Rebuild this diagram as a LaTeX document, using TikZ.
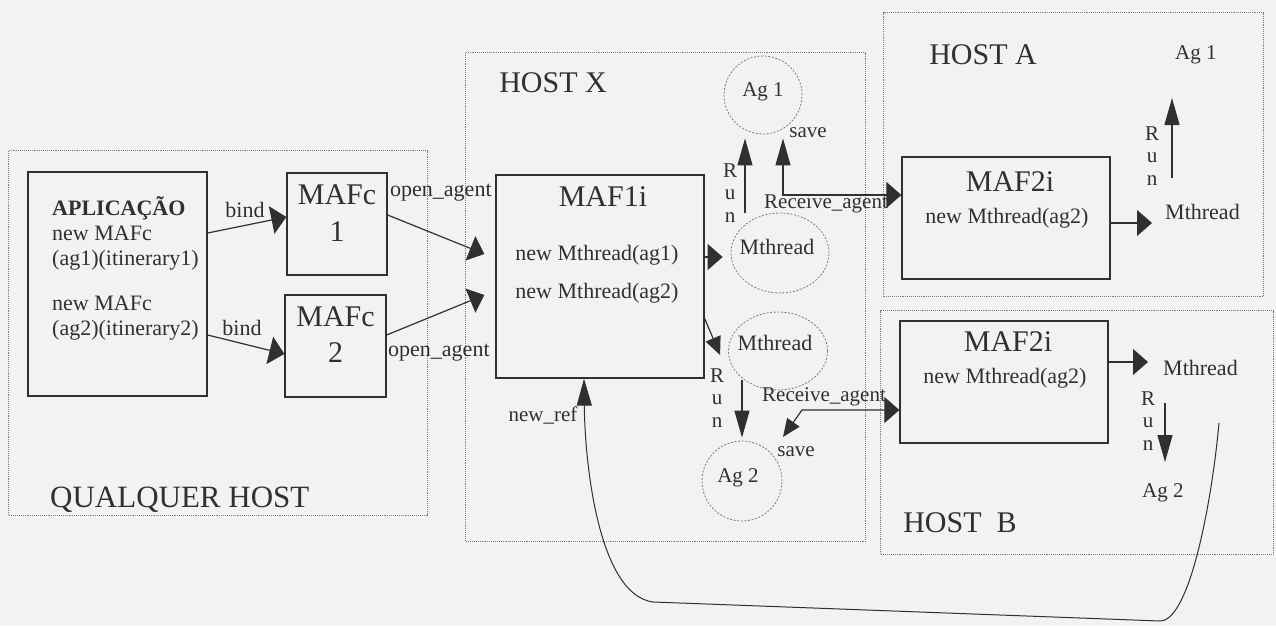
\documentclass[tikz,border=0pt]{standalone}
\usepackage{fontspec}
\setmainfont{Liberation Serif}
\usetikzlibrary{arrows.meta,shapes.geometric,calc}
\definecolor{paper}{RGB}{242,242,242}
\definecolor{ink}{RGB}{48,48,48}
\definecolor{faint}{RGB}{125,125,125}
\begin{document}
\begin{tikzpicture}[x=1pt,y=-1pt,
  hostbox/.style={draw=faint, densely dotted, line width=1.1pt, rectangle, inner sep=0, anchor=north west},
  solidbox/.style={draw=ink, line width=1.3pt, rectangle, inner sep=0},
  dashcirc/.style={draw=faint, dash pattern=on 2pt off 1.6pt, line width=0.8pt, inner sep=0},
  bigtxt/.style={font=\fontsize{30}{36}\selectfont, text=ink, inner sep=0},
  midtxt/.style={font=\fontsize{22}{27}\selectfont, text=ink, inner sep=0},
  smalltxt/.style={font=\fontsize{21}{22.5}\selectfont, text=ink, inner sep=0},
  conn/.style={draw=ink, line width=1.2pt},
  harr/.style={conn, -{Triangle[length=15pt,width=26pt]}},
  varr/.style={conn, -{Triangle[length=27pt,width=15pt]}},
  darr/.style={conn, -{Triangle[length=18pt,width=16pt]}}
]
\useasboundingbox[fill=paper] (0,0) rectangle (1276,626);

% host frames
\node[hostbox, minimum width=419pt, minimum height=365pt] (qh) at (8,150) {};
\node[hostbox, minimum width=400pt, minimum height=489pt] (hx) at (465,52) {};
\node[hostbox, minimum width=380pt, minimum height=284pt] (ha) at (883,12) {};
\node[hostbox, minimum width=393pt, minimum height=244pt] (hb) at (880,310) {};

\node[bigtxt, anchor=north west, font=\fontsize{31}{36}\selectfont] (tqh) at (50,487) {QUALQUER HOST};
\node[bigtxt] (thx) at (553,83) {HOST X};
\node[bigtxt] (tha) at (983,55) {HOST A};
\node[bigtxt] (thb) at (960,523) {HOST~~B};

% application
\node[solidbox, minimum width=179pt, minimum height=224pt] (app) at (117.5,284) {};
\node[midtxt, anchor=west] (t1) at (52,208) {\textbf{APLICAÇÃO}};
\node[midtxt, anchor=west] (t2) at (52,233) {new MAFc};
\node[midtxt, anchor=west] (t3) at (52,260) {(ag1)(itinerary1)};
\node[midtxt, anchor=west] (t4) at (52,303) {new MAFc};
\node[midtxt, anchor=west] (t5) at (52,330) {(ag2)(itinerary2)};

% MAFc boxes
\node[solidbox, minimum width=100pt, minimum height=102pt] (mafc1) at (337,224) {};
\node[bigtxt] (m1a) at (337,195) {MAFc};
\node[bigtxt] (m1b) at (337,232) {1};
\node[solidbox, minimum width=101pt, minimum height=102pt] (mafc2) at (335.5,346) {};
\node[bigtxt] (m2a) at (335.5,317) {MAFc};
\node[bigtxt] (m2b) at (335.5,353) {2};

\draw[harr, -{Triangle[length=15pt,width=28pt]}] ([yshift=51pt]app.east) -- ([yshift=7pt]mafc1.west);
\draw[harr, -{Triangle[length=15pt,width=28pt]}] ([yshift=-51pt]app.east) -- ([yshift=-8pt]mafc2.west);
\node[midtxt] (lb1) at (245,210) {bind};
\node[midtxt] (lb2) at (242,328) {bind};

% MAF1i
\node[solidbox, minimum width=208pt, minimum height=203pt] (maf1) at (600,276.5) {};
\node[bigtxt] (tm1) at (603,197) {MAF1i};
\node[midtxt] (tm2) at (597,255) {new Mthread(ag1)};
\node[midtxt] (tm3) at (597,293) {new Mthread(ag2)};

\draw[harr] ([yshift=9pt]mafc1.east) -- ([xshift=-11pt,yshift=22.5pt]maf1.west);
\draw[harr] ([yshift=11pt]mafc2.east) -- ([xshift=-11pt,yshift=-18.5pt]maf1.west);
\node[midtxt, anchor=west] (lo1) at (390,193) {open\_agent};
\node[midtxt, anchor=west] (lo2) at (388,353) {open\_agent};

% Host X threads and agents
\node[dashcirc, ellipse, minimum width=98pt, minimum height=80pt] (mth1) at (780,253) {};
\node[midtxt] (tmth1) at (777,247) {Mthread};
\node[dashcirc, circle, minimum size=78pt] (ag1) at (763,95) {};
\node[smalltxt] (tag1) at (763,92) {Ag 1};
\node[dashcirc, ellipse, minimum width=99pt, minimum height=78pt] (mth2) at (778,351) {};
\node[midtxt] (tmth2) at (775,343) {Mthread};
\node[dashcirc, circle, minimum size=80pt] (ag2) at (742,481) {};
\node[smalltxt] (tag2) at (738,478) {Ag 2};

\draw[harr] ([yshift=19.5pt]maf1.east) -- ([xshift=-8pt,yshift=-4pt]mth1.west);
\draw[darr] ([yshift=-42pt]maf1.east) -- ([xshift=-8pt,yshift=-4pt]mth2.west);

\draw[varr] ([xshift=-35pt]mth1.north) -- ([xshift=-18pt,yshift=-4pt]ag1.south);
\node[smalltxt, align=center] (run1) at (730,193) {R\\u\\n};
\draw[varr] ([xshift=-36pt,yshift=10pt]mth2.south) -- ([yshift=3pt]ag2.north);
\node[smalltxt, align=center] (run2) at (717,398) {R\\u\\n};

% MAF2i host A
\node[solidbox, minimum width=208pt, minimum height=122pt] (maf2a) at (1006,218) {};
\node[bigtxt] (ta1) at (1010,182) {MAF2i};
\node[midtxt] (ta2) at (1007,218) {new Mthread(ag2)};
\node[midtxt, anchor=west] (mtA) at (1165,212) {Mthread};
\node[smalltxt, anchor=west] (agA) at (1175,55) {Ag 1};
\draw[harr] ([yshift=-5pt]maf2a.east) -- ([xshift=-13pt,yshift=-11pt]mtA.west);
\draw[varr] ([xshift=7pt,yshift=34pt]mtA.west) -- ([xshift=-3pt,yshift=-43pt]agA.west);
\node[smalltxt, align=center] (run3) at (1152,156) {R\\u\\n};

% MAF2i host B
\node[solidbox, minimum width=208pt, minimum height=122pt] (maf2b) at (1004,382) {};
\node[bigtxt] (tb1) at (1008,342) {MAF2i};
\node[midtxt] (tb2) at (1005,378) {new Mthread(ag2)};
\node[midtxt, anchor=west] (mtB) at (1163,368) {Mthread};
\node[smalltxt, anchor=west] (agB) at (1142,493) {Ag 2};
\draw[harr] ([yshift=20pt]maf2b.east) -- ([xshift=-15pt,yshift=6pt]mtB.west);
\draw[varr] ([xshift=2pt,yshift=-35pt]mtB.west) -- ([xshift=23pt,yshift=31pt]agB.west);
\node[smalltxt, align=center] (run4) at (1148,421) {R\\u\\n};

% Receive_agent / save (upper)
\draw[conn, {Triangle[length=27pt,width=15pt]}-{Triangle[length=15pt,width=26pt]}]
  ([xshift=20pt,yshift=-4pt]ag1.south) |- ([yshift=23pt]maf2a.west);
\node[smalltxt] (sv1) at (808,133) {save};
\node[smalltxt, anchor=west] (ra1) at (764,204) {Receive\_agent};

% Receive_agent / save (lower)
\coordinate (svtip) at (783,437);
\coordinate (bend2) at (802,410);
\draw[conn, {Triangle[length=18pt,width=15pt]}-{Triangle[length=15pt,width=26pt]}]
  (svtip) -- (bend2) -- ([yshift=-28pt]maf2b.west);
\node[smalltxt] (sv2) at (796,452) {save};
\node[smalltxt, anchor=west] (ra2) at (762,397) {Receive\_agent};

% new_ref
\coordinate (nr) at (1219,423);
\draw[conn, line width=1pt, -{Triangle[length=27pt,width=15pt]}]
  (nr) .. controls (1212,500) and (1190,621) .. (1160,621)
  -- (653,602) .. controls (600,595) and (585,470) .. ([xshift=-16pt]maf1.south);
\node[smalltxt] (lnr) at (543,415) {new\_ref};
\end{tikzpicture}
\end{document}
